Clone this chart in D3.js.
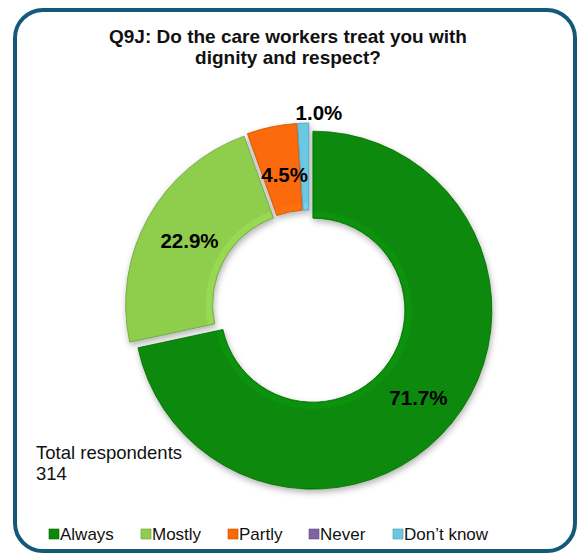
<!DOCTYPE html>
<html>
<head>
<meta charset="utf-8">
<script src="https://cdn.jsdelivr.net/npm/d3@7"></script>
<style>
  html, body { margin: 0; padding: 0; background: #ffffff; }
  svg { display: block; font-family: Arial, "Liberation Sans", sans-serif; }
</style>
</head>
<body>
<svg id="chart" width="578" height="555"></svg>
<script>
// Survey answers and their shares (%)
const categories = ["Always", "Mostly", "Partly", "Never", "Don\u2019t know"];
const values = [71.7, 22.9, 4.5, 0, 1.0];
const colors = ["#088a08", "#8fcd4e", "#fb6a07", "#8064a2", "#6cc7e2"];
const titleLines = ["Q9J: Do the care workers treat you with", "dignity and respect?"];
const noteLines = ["Total respondents", "314"];

const svg = d3.select("#chart");
const defs = svg.append("defs");

// soft shadow under the ring
const shadow = defs.append("filter").attr("id", "shadow")
  .attr("x", "-20%").attr("y", "-20%").attr("width", "140%").attr("height", "140%");
shadow.append("feDropShadow").attr("dx", 1).attr("dy", 3)
  .attr("stdDeviation", 3).attr("flood-color", "#000").attr("flood-opacity", 0.3);

// frame
svg.append("rect")
  .attr("x", 15).attr("y", 10).attr("width", 560).attr("height", 541)
  .attr("rx", 28).attr("ry", 28)
  .attr("fill", "#ffffff").attr("stroke", "#14597a").attr("stroke-width", 4);

// title
svg.append("text")
  .attr("x", 288).attr("y", 43)
  .attr("text-anchor", "middle")
  .attr("font-size", 19).attr("font-weight", "bold").attr("fill", "#111")
  .selectAll("tspan").data(titleLines).join("tspan")
  .attr("x", 288).attr("dy", (d, i) => i ? 21 : 0)
  .text(d => d);

// donut
const cx = 309, cy = 307;
const rOuter = 179, rInner = 92, explode = 5;

const pie = d3.pie().sort(null).value(d => d.value);
const arcs = pie(categories.map((c, i) => ({ name: c, value: values[i], color: colors[i] })));
const arc = d3.arc().innerRadius(rInner).outerRadius(rOuter);
const shift = d => {
  const a = (d.startAngle + d.endAngle) / 2;
  return [explode * Math.sin(a), -explode * Math.cos(a)];
};

const ring = svg.append("g").attr("transform", `translate(${cx},${cy})`)
  .attr("filter", "url(#shadow)");

const slices = ring.selectAll("g.slice")
  .data(arcs.filter(d => d.value > 0))
  .join("g").attr("class", "slice")
  .attr("transform", d => `translate(${shift(d)})`);

slices.append("path")
  .attr("d", arc)
  .attr("fill", d => d.data.color)
  .attr("stroke", d => d3.color(d.data.color).darker(0.7))
  .attr("stroke-width", 0.8);

// light bevel along the inner part of each slice
slices.append("path")
  .attr("d", d3.arc().innerRadius(rInner + 1).outerRadius(rInner + 7).startAngle(d => d.startAngle + 0.01).endAngle(d => d.endAngle - 0.01))
  .attr("fill", d => d3.color(d.data.color).brighter(0.35))
  .attr("opacity", 0.45);

// value labels
const labels = svg.append("g").attr("transform", `translate(${cx},${cy})`);
const labelPos = d => {
  const mid = (rInner + rOuter) / 2;
  if (d.data.name === "Don\u2019t know") {
    const p = d3.arc().innerRadius(rOuter + 15).outerRadius(rOuter + 15).centroid(d);
    return [p[0] + 16, p[1] - 1];
  }
  if (d.data.name === "Partly") {
    const p = d3.arc().innerRadius(rOuter - 34).outerRadius(rOuter - 34).centroid(d);
    return [p[0] + 5, p[1] + 9];
  }
  const p = d3.arc().innerRadius(mid).outerRadius(mid).centroid(d);
  if (d.data.name === "Always") return [p[0] + 4, p[1] + 5];
  return [p[0] - 1, p[1] - 1];
};
labels.selectAll("text")
  .data(arcs.filter(d => d.value > 0))
  .join("text")
  .attr("text-anchor", "middle")
  .attr("dominant-baseline", "central")
  .attr("font-size", 20.5).attr("font-weight", "bold").attr("fill", "#000")
  .attr("transform", d => `translate(${labelPos(d)})`)
  .text(d => d.value.toFixed(1) + "%");

// respondents note
svg.append("text")
  .attr("x", 36).attr("y", 459)
  .attr("font-size", 18.5).attr("fill", "#111")
  .selectAll("tspan").data(noteLines).join("tspan")
  .attr("x", 36).attr("dy", (d, i) => i ? 21 : 0)
  .text(d => d);

// legend
const legendX = [49, 141, 228, 309, 393];
const legend = svg.append("g");
const items = legend.selectAll("g").data(categories).join("g")
  .attr("transform", (d, i) => `translate(${legendX[i]},534)`);
items.append("rect")
  .attr("x", 0).attr("y", -5).attr("width", 10).attr("height", 10)
  .attr("fill", (d, i) => colors[i])
  .attr("stroke", (d, i) => d3.color(colors[i]).darker(0.8)).attr("stroke-width", 0.6);
items.append("text")
  .attr("x", 11).attr("y", 0)
  .attr("dominant-baseline", "central")
  .attr("font-size", 17).attr("fill", "#111")
  .text(d => d);
</script>
</body>
</html>
